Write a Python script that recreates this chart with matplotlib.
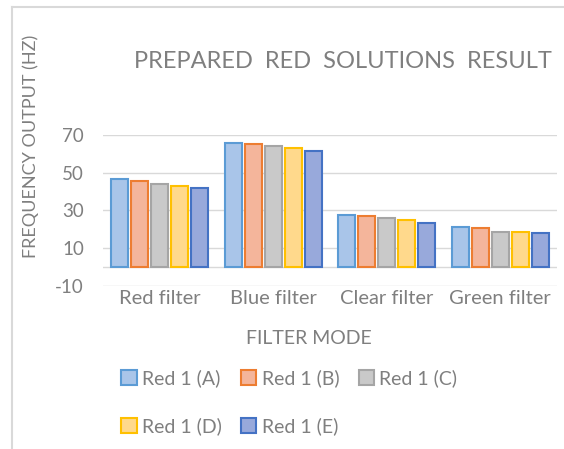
import matplotlib
matplotlib.use("Agg")
import matplotlib.pyplot as plt
import numpy as np
from matplotlib.lines import Line2D

categories = ["Red filter", "Blue filter", "Clear filter", "Green filter"]
series_names = ["Red 1 (A)", "Red 1 (B)", "Red 1 (C)", "Red 1 (D)", "Red 1 (E)"]
red_1_a = [46.6, 66.0, 27.6, 21.2]
red_1_b = [45.5, 65.4, 27.0, 20.6]
red_1_c = [44.1, 64.0, 26.0, 18.7]
red_1_d = [42.9, 63.3, 25.1, 18.5]
red_1_e = [42.0, 61.3, 23.1, 17.8]
yticks = [-10, 10, 30, 50, 70]

series = [red_1_a, red_1_b, red_1_c, red_1_d, red_1_e]
fills = ["#A9C5E9", "#F4B59B", "#C9C9C9", "#FFD98C", "#98A9DB"]
edges = ["#5B9BD5", "#ED7D31", "#A5A5A5", "#FFC000", "#4472C4"]

plt.rcParams["font.family"] = ["Lato", "DejaVu Sans"]
plt.rcParams["axes.unicode_minus"] = False
txt = "#7F7F7F"
grid = "#D9D9D9"

W, H = 564, 449
fig = plt.figure(figsize=(W / 100, H / 100), dpi=100)
ax = fig.add_axes([103 / W, 1 - 285.7 / H, 454 / W, (285.7 - 135) / H])

x = np.arange(len(categories))
pitch = 0.176
bw = 0.147
for i, (vals, fc, ec, name) in enumerate(zip(series, fills, edges, series_names)):
    ax.bar(x + (i - 2) * pitch, vals, width=bw, color=fc, edgecolor=ec,
           linewidth=1.5, label=name, zorder=3)

ax.set_xlim(-0.5, len(categories) - 0.5)
ax.set_ylim(-10, 70)
ax.set_yticks(yticks)
ax.yaxis.grid(True, color=grid, linewidth=1.0, zorder=0)
ax.axhline(0, color=grid, linewidth=1.0, zorder=1)
for s in ax.spines.values():
    s.set_visible(False)
ax.tick_params(axis="both", length=0, colors=txt)
ax.tick_params(axis="y", pad=13.7, labelsize=13.5)
ax.set_xticks(x)
ax.set_xticklabels(categories)
ax.tick_params(axis="x", pad=3, labelsize=14.5)

fig.text(343 / W, 1 - 61 / H, "PREPARED  RED  SOLUTIONS  RESULT", ha="center", va="center",
         color=txt, fontsize=17)
fig.text(308.5 / W, 1 - 338 / H, "FILTER MODE", ha="center", va="center",
         color=txt, fontsize=14)
fig.text(31 / W, 1 - 146 / H, "FREQUENCY OUTPUT (HZ)", ha="center", va="center",
         rotation=90, color=txt, fontsize=13)

handles, labels = ax.get_legend_handles_labels()
order = [0, 3, 1, 4, 2]
leg = fig.legend([handles[k] for k in order], [labels[k] for k in order],
                 ncol=3, loc="upper left", bbox_to_anchor=(121 / W, 1 - 369 / H),
                 frameon=False, fontsize=14, labelcolor=txt,
                 handlelength=0.8, handleheight=0.8, handletextpad=0.26,
                 columnspacing=1.0, labelspacing=1.55, borderpad=0, borderaxespad=0)

fig.add_artist(Line2D([12 / W, 12 / W], [0, 1 - 7 / H], transform=fig.transFigure,
                      color="#D9D9D9", linewidth=1.5))
fig.add_artist(Line2D([12 / W, 1], [1 - 7 / H, 1 - 7 / H], transform=fig.transFigure,
                      color="#D9D9D9", linewidth=1.5))

fig.savefig("out.png", dpi=100, facecolor="white")
